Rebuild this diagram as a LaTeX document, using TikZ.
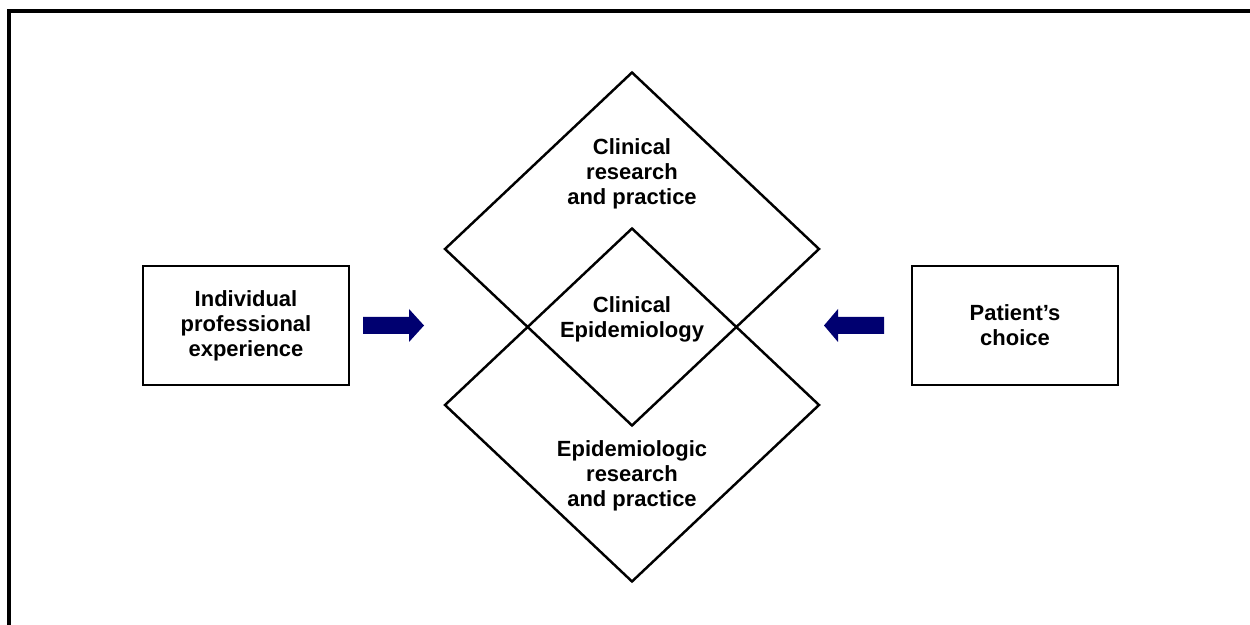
\documentclass[tikz,border=0pt]{standalone}
\usepackage{fontspec}
\setmainfont{Liberation Sans}
\usepackage{tikz}
\usetikzlibrary{shapes.geometric, positioning}
\definecolor{ArrowNavy}{HTML}{000070}

\tikzset{
    fieldbox/.style={draw, line width=1.4pt, minimum width=4.12cm, minimum height=2.38cm,
                     align=center, font=\fontsize{12.5}{14.2}\selectfont\bfseries},
    fielddiamond/.style={draw, diamond, line width=1.4pt, minimum width=7.5cm,
                         minimum height=7.08cm, inner sep=0pt},
    fieldtext/.style={align=center, font=\fontsize{12.5}{14.2}\selectfont\bfseries}
}

\begin{document}
\begin{tikzpicture}
    \useasboundingbox (0,0) rectangle (25,12.5);
    \draw[line width=2pt] (0.18,-1) |- (26,12.28);

    % two overlapping fields
    \node[fielddiamond] (clinical) at (12.64,7.52) {};
    \node[fielddiamond] (epidem) at (12.64,4.40) {};

    \node[fieldtext] (clinicaltext) at ([yshift=1.50cm]clinical.center) {Clinical\\research\\and practice};
    \node[fieldtext] (overlaptext) at (12.64,6.12) {Clinical\\Epidemiology};
    \node[fieldtext] (epidemtext) at ([yshift=-1.42cm]epidem.center) {Epidemiologic\\research\\and practice};

    % inputs from both sides
    \node[fieldbox] (experience) at (4.92,5.99) {\raisebox{-1pt}{\parbox{3.5cm}{\centering Individual\\professional\\experience}}};
    \node[fieldbox] (choice) at (20.30,5.99) {\raisebox{-2pt}{\parbox{3.5cm}{\centering Patient's\\choice}}};

    \coordinate (leftstart) at (7.26,5.99);
    \coordinate (rightstart) at (17.68,5.99);
    \fill[ArrowNavy] (leftstart) ++(0,0.17) -- ++(0.92,0) -- ++(0,0.16) -- ++(0.30,-0.33)
        -- ++(-0.30,-0.33) -- ++(0,0.16) -- ++(-0.92,0) -- cycle;
    \fill[ArrowNavy] (rightstart) ++(0,0.17) -- ++(-0.92,0) -- ++(0,0.16) -- ++(-0.28,-0.33)
        -- ++(0.28,-0.33) -- ++(0,0.16) -- ++(0.92,0) -- cycle;
\end{tikzpicture}
\end{document}
